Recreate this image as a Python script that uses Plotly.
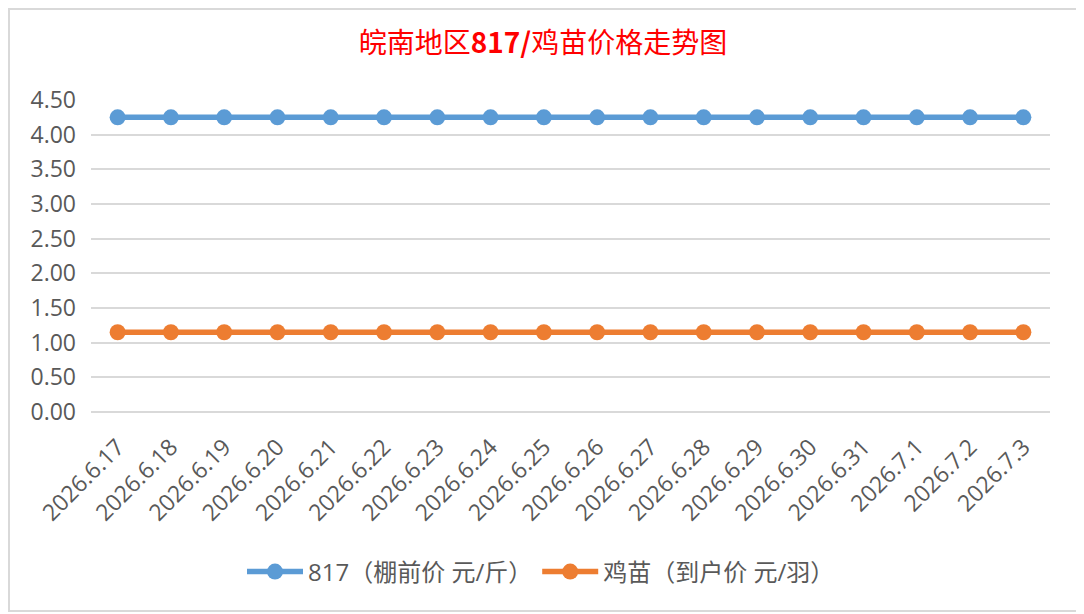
import plotly.graph_objects as go

dates = ["2026.6.17", "2026.6.18", "2026.6.19", "2026.6.20", "2026.6.21", "2026.6.22",
         "2026.6.23", "2026.6.24", "2026.6.25", "2026.6.26", "2026.6.27", "2026.6.28",
         "2026.6.29", "2026.6.30", "2026.6.31", "2026.7.1", "2026.7.2", "2026.7.3"]
price_817 = [4.25, 4.25, 4.25, 4.25, 4.25, 4.25, 4.25, 4.25, 4.25,
             4.25, 4.25, 4.25, 4.25, 4.25, 4.25, 4.25, 4.25, 4.25]
price_chick = [1.15, 1.15, 1.15, 1.15, 1.15, 1.15, 1.15, 1.15, 1.15,
               1.15, 1.15, 1.15, 1.15, 1.15, 1.15, 1.15, 1.15, 1.15]
y_ticks = [0, 0.5, 1, 1.5, 2, 2.5, 3, 3.5, 4, 4.5]

# page body has an 8px margin, so shift everything back by that
OFF = 8
W, H = 1084 - OFF, 614 - OFF
L, T = 91 - OFF, 100 - OFF
R = W - (1050 - OFF)
B = H - (412 - OFF)
pw, ph = W - L - R, H - T - B

fnt = "Open Sans, Noto Sans CJK SC, sans-serif"

fig = go.Figure()
fig.add_trace(go.Scatter(x=dates, y=price_817, mode="lines+markers",
                         name="817（棚前价 元/斤）",
                         line=dict(color="#5B9BD5", width=5.5),
                         marker=dict(size=16, color="#5B9BD5")))
fig.add_trace(go.Scatter(x=dates, y=price_chick, mode="lines+markers",
                         name="鸡苗（到户价 元/羽）",
                         line=dict(color="#ED7D31", width=5.5),
                         marker=dict(size=16, color="#ED7D31")))

# outer chart border (page pixel -> paper fraction)
def px_x(p): return (p - OFF - L) / pw
def px_y(p): return (H - B - (p - OFF)) / ph

fig.add_shape(type="rect", xref="paper", yref="paper",
              x0=px_x(9), x1=px_x(1080), y0=px_y(611), y1=px_y(9),
              line=dict(color="#D9D9D9", width=2), fillcolor="rgba(0,0,0,0)")

fig.update_layout(
    width=W, height=H,
    margin=dict(l=L, r=R, t=T, b=B),
    paper_bgcolor="white", plot_bgcolor="white",
    font=dict(family=fnt, color="#595959", size=23),
    title=dict(text="皖南地区<b>817/</b>鸡苗价格走势图", x=px_x(543), xanchor="center",
               xref="paper", y=1 - (43 - OFF) / H, yanchor="middle",
               font=dict(family="Noto Sans CJK SC", size=28, color="#FF0000")),
    xaxis=dict(type="category", range=[-0.5, len(dates) - 0.5], tickangle=-45,
               showgrid=False, showline=False, ticks="", zeroline=False,
               ticklabelstandoff=16,
               tickfont=dict(size=23, color="#595959")),
    yaxis=dict(range=[0, 4.5], tickvals=y_ticks, tickformat=".2f",
               showgrid=True, gridcolor="#D9D9D9", gridwidth=1.5,
               zeroline=True, zerolinecolor="#D9D9D9", zerolinewidth=1.5,
               showline=False, ticks="", ticklabelstandoff=14,
               tickfont=dict(size=23, color="#595959")),
    legend=dict(orientation="h", x=px_x(541), xanchor="center",
                y=px_y(572), yanchor="middle", itemwidth=56,
                font=dict(family=fnt, size=24, color="#595959")),
    showlegend=True,
)

fig.write_html("out.html")
